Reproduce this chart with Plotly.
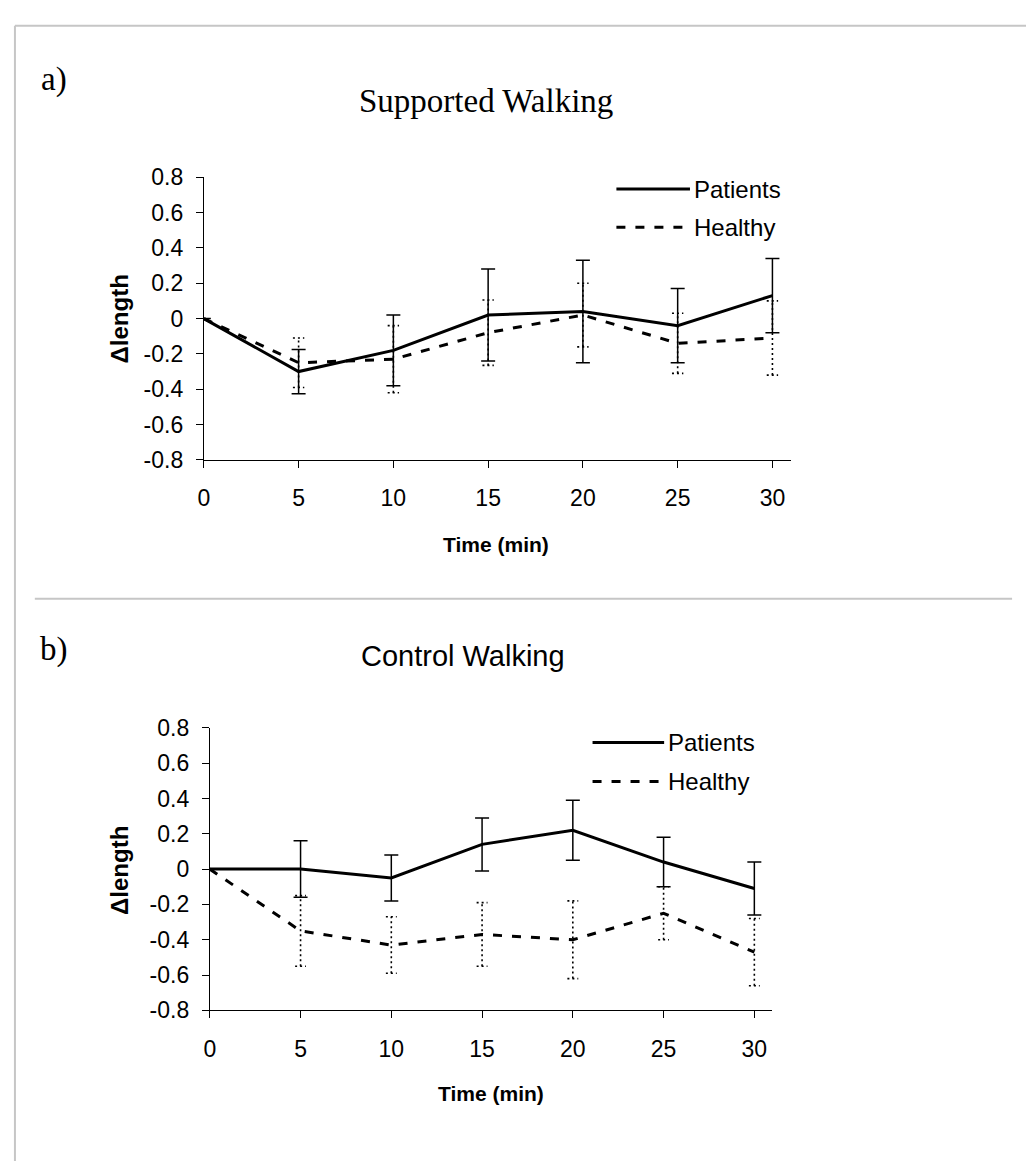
import plotly.graph_objects as go

# ---- data -----------------------------------------------------------------
time_min = [0, 5, 10, 15, 20, 25, 30]

# a) Supported walking
sup_patients = [0, -0.30, -0.18, 0.02, 0.04, -0.04, 0.13]
sup_patients_err = [0, 0.125, 0.20, 0.26, 0.29, 0.21, 0.21]
sup_healthy = [0, -0.25, -0.23, -0.08, 0.02, -0.14, -0.11]
sup_healthy_err = [0, 0.14, 0.19, 0.185, 0.18, 0.17, 0.21]

# b) Control walking
ctl_patients = [0, 0.00, -0.05, 0.14, 0.22, 0.04, -0.11]
ctl_patients_err = [0, 0.16, 0.13, 0.15, 0.17, 0.14, 0.15]
ctl_healthy = [0, -0.35, -0.43, -0.37, -0.40, -0.25, -0.47]
ctl_healthy_err = [0, 0.20, 0.16, 0.18, 0.22, 0.15, 0.19]

y_ticks = [0.8, 0.6, 0.4, 0.2, 0, -0.2, -0.4, -0.6, -0.8]
y_tick_text = ["0.8", "0.6", "0.4", "0.2", "0", "-0.2", "-0.4", "-0.6", "-0.8"]
x_ticks = [0, 5, 10, 15, 20, 25, 30]

# ---- page geometry (pixels -> paper) --------------------------------------
W, H = 1026, 1174


def px(x):
    return x / W


def py(y):
    return 1 - y / H


SANS = "Liberation Sans, Arial, sans-serif"
SERIF = "Liberation Serif, Times New Roman, serif"
BLACK = "#000000"
FRAME = "#c6c6c6"

fig = go.Figure()


def dotted_bars(t, mean, err, cap):
    """Vertical dotted whiskers with short caps for one series."""
    xs, ys = [], []
    for ti, m, e in zip(t, mean, err):
        if e <= 0:
            continue
        xs += [ti, ti, None, ti - cap, ti + cap, None, ti - cap, ti + cap, None]
        ys += [m - e, m + e, None, m + e, m + e, None, m - e, m - e, None]
    return xs, ys


panels = [
    dict(xa="x", ya="y", pat=sup_patients, pe=sup_patients_err,
         hea=sup_healthy, he=sup_healthy_err,
         xdom=[px(199), px(790)], ydom=[py(457), py(168)]),
    dict(xa="x2", ya="y2", pat=ctl_patients, pe=ctl_patients_err,
         hea=ctl_healthy, he=ctl_healthy_err,
         xdom=[px(205), px(771)], ydom=[py(1020), py(731)]),
]

for p in panels:
    # healthy whiskers (dotted)
    bx, by = dotted_bars(time_min, p["hea"], p["he"], 0.3)
    fig.add_trace(go.Scatter(
        x=bx, y=by, mode="lines", xaxis=p["xa"], yaxis=p["ya"],
        line=dict(color=BLACK, width=1.6, dash="2px,3px"),
        hoverinfo="skip", showlegend=False))
    # healthy mean line (dashed)
    fig.add_trace(go.Scatter(
        x=time_min, y=p["hea"], mode="lines", name="Healthy",
        xaxis=p["xa"], yaxis=p["ya"],
        line=dict(color=BLACK, width=3, dash="9px,10px"),
        showlegend=False))
    # patients mean line with solid whiskers
    fig.add_trace(go.Scatter(
        x=time_min, y=p["pat"], mode="lines", name="Patients",
        xaxis=p["xa"], yaxis=p["ya"],
        line=dict(color=BLACK, width=3),
        error_y=dict(type="data", array=p["pe"], visible=True,
                     color=BLACK, thickness=1.5, width=7),
        showlegend=False))

axis_common = dict(
    showline=True, linecolor=BLACK, linewidth=1, mirror=False,
    showgrid=False, zeroline=False, ticks="outside", ticklen=7,
    tickwidth=1, tickcolor=BLACK,
    tickfont=dict(family=SANS, size=23, color=BLACK),
)

layout_axes = {}
for i, p in enumerate(panels):
    suffix = "" if i == 0 else str(i + 1)
    layout_axes["xaxis" + suffix] = dict(
        axis_common, domain=p["xdom"], range=[0, 31],
        tickvals=x_ticks, ticklabelstandoff=11,
        anchor="y" + suffix, fixedrange=True)
    layout_axes["yaxis" + suffix] = dict(
        axis_common, domain=p["ydom"], range=[-0.8, 0.8],
        tickvals=y_ticks, ticktext=y_tick_text, ticklabelstandoff=8,
        anchor="x" + suffix, fixedrange=True)

fig.update_layout(
    width=W, height=H, autosize=False,
    margin=dict(l=0, r=0, t=0, b=0),
    paper_bgcolor="white", plot_bgcolor="white",
    showlegend=False,
    **layout_axes,
)

# ---- frame lines ----------------------------------------------------------
shapes = [
    dict(type="line", xref="paper", yref="paper",
         x0=px(9), x1=px(1026), y0=py(13), y1=py(13),
         line=dict(color=FRAME, width=2)),
    dict(type="line", xref="paper", yref="paper",
         x0=px(9), x1=px(9), y0=py(13), y1=py(1174),
         line=dict(color=FRAME, width=2)),
    dict(type="line", xref="paper", yref="paper",
         x0=px(29), x1=px(1012), y0=py(599), y1=py(599),
         line=dict(color=FRAME, width=2)),
]

annotations = []

# ---- legends (one per panel) ------------------------------------------------
legend_pos = [
    dict(x0=614, x1=688, y_pat=180, y_hea=219, tx=690),
    dict(x0=590, x1=662, y_pat=746, y_hea=786, tx=664),
]
for lg in legend_pos:
    shapes.append(dict(type="line", xref="paper", yref="paper",
                       x0=px(lg["x0"]), x1=px(lg["x1"]),
                       y0=py(lg["y_pat"]), y1=py(lg["y_pat"]),
                       line=dict(color=BLACK, width=3)))
    shapes.append(dict(type="line", xref="paper", yref="paper",
                       x0=px(lg["x0"]), x1=px(lg["x1"]),
                       y0=py(lg["y_hea"]), y1=py(lg["y_hea"]),
                       line=dict(color=BLACK, width=3, dash="9px,10px")))
    for label, yy in (("Patients", lg["y_pat"]), ("Healthy", lg["y_hea"])):
        annotations.append(dict(
            text=label, xref="paper", yref="paper",
            x=px(lg["tx"]), y=py(yy), xanchor="left", yanchor="middle",
            showarrow=False, font=dict(family=SANS, size=24, color=BLACK)))

# ---- titles and axis labels -------------------------------------------------
text_items = [
    ("a)", 48, 68, SERIF, 33, False),
    ("Supported Walking", 483, 90, SERIF, 33, False),
    ("b)", 48, 651, SERIF, 33, False),
    ("Control Walking", 460, 658, SANS, 29, False),
    ("Time (min)", 493, 544, SANS, 21, True),
    ("Time (min)", 488, 1105, SANS, 21, True),
]
for txt, x, y, fam, size, bold in text_items:
    annotations.append(dict(
        text=f"<b>{txt}</b>" if bold else txt,
        xref="paper", yref="paper", x=px(x), y=py(y),
        xanchor="center", yanchor="middle", showarrow=False,
        font=dict(family=fam, size=size, color=BLACK)))

for yc in (313, 877):
    annotations.append(dict(
        text="<b>Δlength</b>", xref="paper", yref="paper",
        x=px(114), y=py(yc), xanchor="center", yanchor="middle",
        textangle=-90, showarrow=False,
        font=dict(family=SANS, size=24, color=BLACK)))

fig.update_layout(shapes=shapes, annotations=annotations)

fig.write_html("out.html")
